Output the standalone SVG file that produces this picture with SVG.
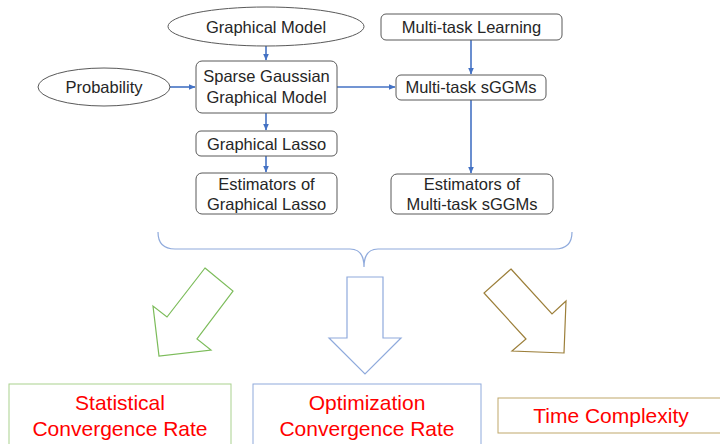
<svg xmlns="http://www.w3.org/2000/svg" width="720" height="444" viewBox="0 0 720 444">
<style>
.n{fill:#fff;stroke:#595959;stroke-width:1}
.t{font-family:"Liberation Sans",Arial,sans-serif;font-size:16.5px;fill:#262626;text-anchor:middle}
.r{font-family:"Liberation Sans",Arial,sans-serif;font-size:21px;fill:#ff0000;text-anchor:middle}
.c{fill:none;stroke:#4472c4;stroke-width:1.6}
</style>
<defs>
<marker id="ah" markerWidth="7" markerHeight="6" refX="6.5" refY="3" orient="auto" markerUnits="userSpaceOnUse">
<path d="M0,0 L7,3 L0,6 z" fill="#4472c4"/>
</marker>
</defs>
<rect width="720" height="444" fill="#fff"/>
<g id="connectors">
<line class="c" x1="266" y1="46" x2="266" y2="60" marker-end="url(#ah)"/>
<line class="c" x1="170" y1="87" x2="195" y2="87" marker-end="url(#ah)"/>
<line class="c" x1="266" y1="113" x2="266" y2="130" marker-end="url(#ah)"/>
<line class="c" x1="266" y1="156" x2="266" y2="172" marker-end="url(#ah)"/>
<line class="c" x1="337" y1="87" x2="395" y2="87" marker-end="url(#ah)"/>
<line class="c" x1="471" y1="40" x2="471" y2="74" marker-end="url(#ah)"/>
<line class="c" x1="471" y1="100" x2="471" y2="173" marker-end="url(#ah)"/>
</g>
<g id="graphical-model"><ellipse class="n" cx="266" cy="26.5" rx="98" ry="19.5"/><text class="t" x="266" y="33">Graphical Model</text></g>
<g id="probability"><ellipse class="n" cx="104" cy="87" rx="66" ry="19"/><text class="t" x="104" y="93">Probability</text></g>
<g id="sggm"><rect class="n" x="196" y="61" width="141" height="52" rx="6"/><text class="t" x="266.5" y="82">Sparse Gaussian</text><text class="t" x="266.5" y="103">Graphical Model</text></g>
<g id="graphical-lasso"><rect class="n" x="196" y="131" width="141" height="25" rx="5"/><text class="t" x="266.5" y="150">Graphical Lasso</text></g>
<g id="est-gl"><rect class="n" x="196" y="173" width="141" height="41" rx="6"/><text class="t" x="266.5" y="190">Estimators of</text><text class="t" x="266.5" y="210">Graphical Lasso</text></g>
<g id="mtl"><rect class="n" x="381" y="14" width="181" height="26" rx="5"/><text class="t" x="471.5" y="33">Multi-task Learning</text></g>
<g id="mt-sggms"><rect class="n" x="396" y="75" width="150" height="25" rx="5"/><text class="t" x="471" y="93">Multi-task sGGMs</text></g>
<g id="est-mt"><rect class="n" x="391" y="174" width="162" height="40" rx="6"/><text class="t" x="472" y="190">Estimators of</text><text class="t" x="472" y="210">Multi-task sGGMs</text></g>
<g id="brace"><path d="M158,232 Q158,249 175,249 L350,249 Q364,249 364,267 Q364,249 378,249 L555,249 Q572,249 572,232" fill="none" stroke="#8faadc" stroke-width="1.2"/></g>
<g id="arrow-green"><polygon points="205,268 233,291 197,339 211,350 159,356 153,306 167,317" fill="#fff" stroke="#7cbc5a" stroke-width="1.2"/></g>
<g id="arrow-blue"><polygon points="347,277 383,277 383,338 401,338 365,374 329,338 347,338" fill="#fff" stroke="#8faadc" stroke-width="1.2"/></g>
<g id="arrow-olive"><polygon points="511,269 552,314 566,301 564,353 512,351 526,339 484,293" fill="#fff" stroke="#9c7f3a" stroke-width="1.2"/></g>
<g id="statistical"><rect x="9" y="384" width="222" height="70" fill="#fff" stroke="#a9d18e" stroke-width="1"/><text class="r" x="120" y="410">Statistical</text><text class="r" x="120" y="436">Convergence Rate</text></g>
<g id="optimization"><rect x="253" y="384" width="228" height="70" fill="#fff" stroke="#8faadc" stroke-width="1"/><text class="r" x="367" y="410">Optimization</text><text class="r" x="367" y="436">Convergence Rate</text></g>
<g id="time"><rect x="498" y="398" width="230" height="35" fill="#fff" stroke="#bfa76a" stroke-width="1"/><text class="r" x="611" y="423">Time Complexity</text></g>
</svg>
